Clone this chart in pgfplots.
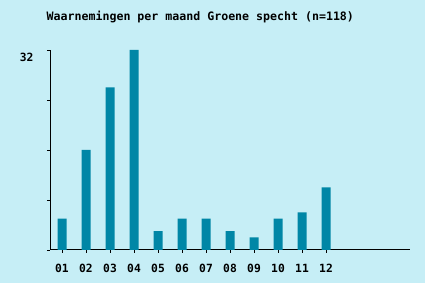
\documentclass[border=0pt]{standalone}
\usepackage{fontspec}
\setmainfont{DejaVu Sans Mono}[BoldFont={DejaVu Sans Mono Bold}]
\usepackage{pgfplots}
\pgfplotsset{compat=1.18}
\definecolor{bg}{RGB}{198,238,246}
\definecolor{bar}{RGB}{0,134,166}
\begin{document}
\begin{tikzpicture}[x=1pt,y=1pt]
\fill[bg] (0,0) rectangle (425,283);
\node[anchor=west,font=\fontsize{11.6}{13}\selectfont\bfseries,inner sep=0pt] at (46.5,266.5) {Waarnemingen per maand Groene specht (n=118)};
\begin{axis}[
  at={(50pt,33pt)}, anchor=south west,
  scale only axis, width=360pt, height=200pt,
  xmin=0.5, xmax=15.5, ymin=0, ymax=32,
  axis x line=bottom, axis y line=left,
  axis line style={black, line width=1pt, -},
  xtick={1,...,12},
  xticklabels={01,02,03,04,05,06,07,08,09,10,11,12},
  ytick={0,8,16,24,32},
  yticklabels={,,,,32},
  tick style={black, line width=0.8pt},
  major tick length=3pt,
  tick align=outside,
  /pgf/number format/assume math mode=true,
  tick label style={font=\fontsize{11.3}{13}\selectfont\bfseries},
  xticklabel style={yshift=-8pt},
  yticklabel style={xshift=-10pt, yshift=-7pt},
  ybar, bar width=9pt,
]
\addplot[fill=bar, draw=none] coordinates {
(1,5) (2,16) (3,26) (4,32) (5,3) (6,5) (7,5) (8,3) (9,2) (10,5) (11,6) (12,10)
};
\end{axis}
\end{tikzpicture}
\end{document}
